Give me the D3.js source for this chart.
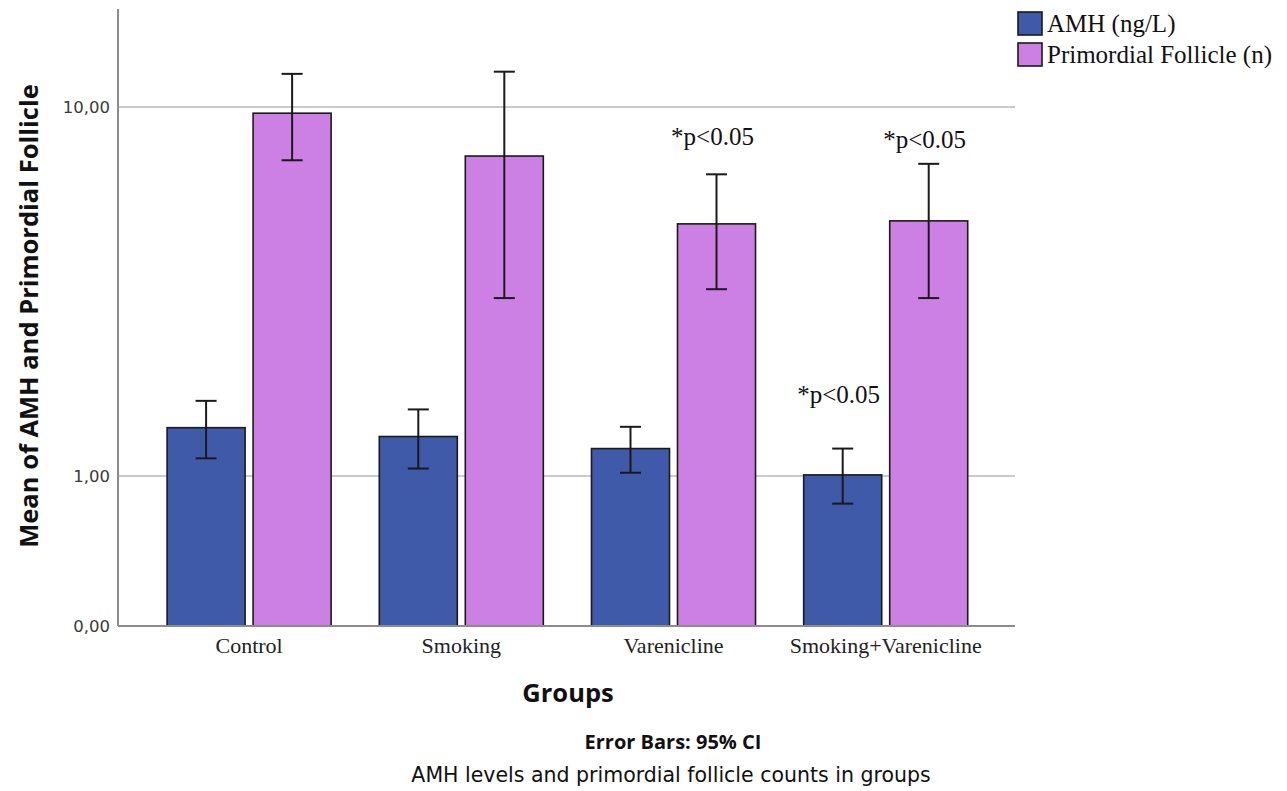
<!DOCTYPE html>
<html>
<head>
<meta charset="utf-8">
<script src="https://cdn.jsdelivr.net/npm/d3@7"></script>
<style>
  html, body { margin: 0; padding: 0; background: #fff; }
  svg { display: block; }
</style>
</head>
<body>
<svg id="chart" width="1287" height="791"></svg>
<script>
// ---- data ----
const groups = ["Control", "Smoking", "Varenicline", "Smoking+Varenicline"];
const seriesNames = ["AMH (ng/L)", "Primordial Follicle (n)"];
const amhMean = [1.50, 1.40, 1.27, 1.01];
const amhLow  = [1.17, 1.07, 1.03, 0.76];
const amhHigh = [1.83, 1.72, 1.51, 1.27];
const follMean = [9.69, 7.77, 5.41, 5.50];
const follLow  = [7.60, 3.55, 3.74, 3.55];
const follHigh = [11.82, 11.95, 7.06, 7.46];
const yTicks = [0, 1, 10];
const annotations = [
  { group: "Varenicline", series: "Primordial Follicle (n)", text: "*p<0.05", at: 8.23 },
  { group: "Smoking+Varenicline", series: "Primordial Follicle (n)", text: "*p<0.05", at: 8.10 },
  { group: "Smoking+Varenicline", series: "AMH (ng/L)", text: "*p<0.05", at: 1.80 }
];
const colors = ["#3f5aa8", "#cd80e3"];

// ---- layout ----
const svg = d3.select("#chart");
const plot = { left: 118, right: 1015, top: 9, bottom: 626 };

const x0 = d3.scaleBand().domain(groups).range([143, 991.8])
  .paddingInner(0.227).paddingOuter(0.1135);
const x1 = d3.scaleBand().domain(seriesNames).range([0, x0.bandwidth()])
  .paddingInner(0.093);
const y = d3.scaleSymlog().constant(1).domain([0, 16.3]).range([plot.bottom, plot.top]);
const color = d3.scaleOrdinal().domain(seriesNames).range(colors);

const rows = [];
groups.forEach((g, i) => {
  rows.push({ group: g, series: seriesNames[0], mean: amhMean[i], lo: amhLow[i], hi: amhHigh[i] });
  rows.push({ group: g, series: seriesNames[1], mean: follMean[i], lo: follLow[i], hi: follHigh[i] });
});

// gridlines
svg.append("g").selectAll("line").data(yTicks.filter(d => d > 0)).join("line")
  .attr("x1", plot.left).attr("x2", plot.right)
  .attr("y1", d => y(d)).attr("y2", d => y(d))
  .attr("stroke", "#b8b8b8").attr("stroke-width", 1.3);

// y axis
const yAxis = d3.axisLeft(y).tickValues(yTicks).tickSize(0).tickPadding(8)
  .tickFormat(d => d3.format(".2f")(d).replace(".", ","));
const gy = svg.append("g").attr("transform", `translate(${plot.left},0)`).call(yAxis);
gy.select(".domain").remove();
gy.selectAll("text").attr("font-family", "DejaVu Sans, sans-serif").attr("font-size", 16.5)
  .attr("fill", "#3a3a3a");
svg.append("line").attr("x1", plot.left).attr("x2", plot.left)
  .attr("y1", plot.top).attr("y2", plot.bottom).attr("stroke", "#8c8c8c").attr("stroke-width", 2);

// bars
const gBars = svg.append("g");
gBars.selectAll("rect").data(rows).join("rect")
  .attr("x", d => x0(d.group) + x1(d.series))
  .attr("width", x1.bandwidth())
  .attr("y", d => y(d.mean))
  .attr("height", d => y(0) - y(d.mean))
  .attr("fill", d => color(d.series))
  .attr("stroke", "#1a1a1a").attr("stroke-width", 1.6);

// x axis line
svg.append("line").attr("x1", plot.left).attr("x2", plot.right)
  .attr("y1", plot.bottom).attr("y2", plot.bottom).attr("stroke", "#8c8c8c").attr("stroke-width", 2);

// error bars
const cap = 10.5;
const gErr = svg.append("g").attr("stroke", "#1a1a1a").attr("stroke-width", 2);
rows.forEach(d => {
  const cx = x0(d.group) + x1(d.series) + x1.bandwidth() / 2;
  gErr.append("line").attr("x1", cx).attr("x2", cx).attr("y1", y(d.lo)).attr("y2", y(d.hi));
  gErr.append("line").attr("x1", cx - cap).attr("x2", cx + cap).attr("y1", y(d.hi)).attr("y2", y(d.hi));
  gErr.append("line").attr("x1", cx - cap).attr("x2", cx + cap).attr("y1", y(d.lo)).attr("y2", y(d.lo));
});

// x axis labels
const xAxis = d3.axisBottom(x0).tickSize(0).tickPadding(11);
const gx = svg.append("g").attr("transform", `translate(0,${plot.bottom})`).call(xAxis);
gx.select(".domain").remove();
gx.selectAll("text").attr("font-family", "Liberation Serif, serif").attr("font-size", 22)
  .attr("fill", "#222");

// annotations
svg.append("g").selectAll("text").data(annotations).join("text")
  .attr("x", d => x0(d.group) + x1(d.series) + x1.bandwidth() / 2 - 4)
  .attr("y", d => y(d.at))
  .attr("text-anchor", "middle")
  .attr("font-family", "Liberation Serif, serif").attr("font-size", 25)
  .attr("fill", "#111")
  .text(d => d.text);

// axis titles
svg.append("text")
  .attr("transform", "translate(38,316) rotate(-90)")
  .attr("text-anchor", "middle")
  .attr("font-family", "Open Sans, sans-serif").attr("font-weight", "bold").attr("font-size", 25.5)
  .attr("fill", "#111")
  .text("Mean of AMH and Primordial Follicle");
svg.append("text")
  .attr("x", 568).attr("y", 702)
  .attr("text-anchor", "middle")
  .attr("font-family", "Open Sans, sans-serif").attr("font-weight", "bold").attr("font-size", 25.5)
  .attr("fill", "#111")
  .text("Groups");
svg.append("text")
  .attr("x", 673).attr("y", 749)
  .attr("text-anchor", "middle")
  .attr("font-family", "Open Sans, sans-serif").attr("font-weight", "bold").attr("font-size", 20)
  .attr("fill", "#111")
  .text("Error Bars: 95% CI");
svg.append("text")
  .attr("x", 671).attr("y", 782)
  .attr("text-anchor", "middle")
  .attr("font-family", "DejaVu Sans, sans-serif").attr("font-size", 20.5)
  .attr("fill", "#111")
  .text("AMH levels and primordial follicle counts in groups");

// legend
const leg = svg.append("g").attr("transform", "translate(1018,12)");
seriesNames.forEach((s, i) => {
  const g = leg.append("g").attr("transform", `translate(0,${i * 31})`);
  g.append("rect").attr("width", 24).attr("height", 23)
    .attr("fill", color(s)).attr("stroke", "#1a1a1a").attr("stroke-width", 1.6);
  g.append("text").attr("x", 29).attr("y", 20)
    .attr("font-family", "Liberation Serif, serif").attr("font-size", 25)
    .attr("fill", "#111").text(s);
});
</script>
</body>
</html>
